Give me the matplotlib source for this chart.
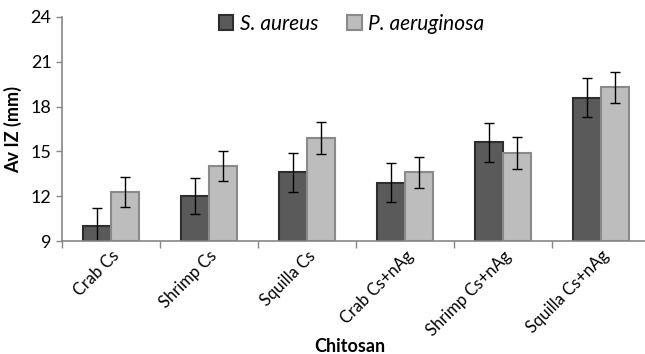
import numpy as np
import matplotlib
matplotlib.use('Agg')
import matplotlib.pyplot as plt

# data
categories = ['Crab Cs', 'Shrimp Cs', 'Squilla Cs',
              'Crab Cs+nAg', 'Shrimp Cs+nAg', 'Squilla Cs+nAg']
s_aureus = [10.0, 12.0, 13.6, 12.9, 15.6, 18.6]
s_aureus_err = [1.2, 1.2, 1.3, 1.3, 1.3, 1.3]
p_aeruginosa = [12.3, 14.0, 15.9, 13.6, 14.9, 19.3]
p_aeruginosa_err = [1.0, 1.0, 1.05, 1.05, 1.05, 1.05]
yticks = [9, 12, 15, 18, 21, 24]

plt.rcParams['font.family'] = ['Lato', 'DejaVu Sans']

fig = plt.figure(figsize=(6.45, 3.54), dpi=100)
ax = fig.add_axes([0.096, 0.319, 0.912, 0.633])

x = np.arange(len(categories))
w = 0.285
base = 9
ax.bar(x - w / 2, np.array(s_aureus) - base, w, bottom=base,
       color='#5a5a5a', edgecolor='#2e2e2e', linewidth=1.5,
       yerr=s_aureus_err, capsize=3.5, error_kw=dict(lw=1, capthick=1, ecolor='black'),
       label='S. aureus', zorder=2)
ax.bar(x + w / 2, np.array(p_aeruginosa) - base, w, bottom=base,
       color='#bdbdbd', edgecolor='#8a8a8a', linewidth=1.5,
       yerr=p_aeruginosa_err, capsize=3.5, error_kw=dict(lw=1, capthick=1, ecolor='black'),
       label='P. aeruginosa', zorder=2)

ax.set_xlim(-0.5, len(categories) - 0.5)
ax.set_ylim(9, 24)
ax.set_yticks(yticks)
ax.set_yticklabels([str(t) for t in yticks], fontsize=13)
ax.set_xticks(x)
ax.set_xticklabels(categories, rotation=45, ha='right', rotation_mode='anchor', fontsize=12)
ax.tick_params(axis='x', length=0, pad=5)
ax.tick_params(axis='y', length=4, color='#868686', width=1)
# category separator ticks
ax.set_xticks(np.arange(-0.5, len(categories)), minor=True)
ax.tick_params(axis='x', which='minor', length=5, color='#868686', width=1)

for side in ['top', 'right']:
    ax.spines[side].set_visible(False)
for side in ['left', 'bottom']:
    ax.spines[side].set_color('#868686')
    ax.spines[side].set_linewidth(1.2)

ax.set_ylabel('Av IZ (mm)', fontsize=13, fontweight='bold', labelpad=6)
fig.text(0.543, 0.006, 'Chitosan', fontsize=13, fontweight='bold', ha='center')

leg = fig.legend(loc='center', bbox_to_anchor=(0.545, 0.932), ncol=2, frameon=False,
                 prop=dict(style='italic', size=15), handlelength=0.7, handleheight=0.7,
                 handletextpad=0.3, columnspacing=1.4)

fig.savefig('out.png', dpi=100)
